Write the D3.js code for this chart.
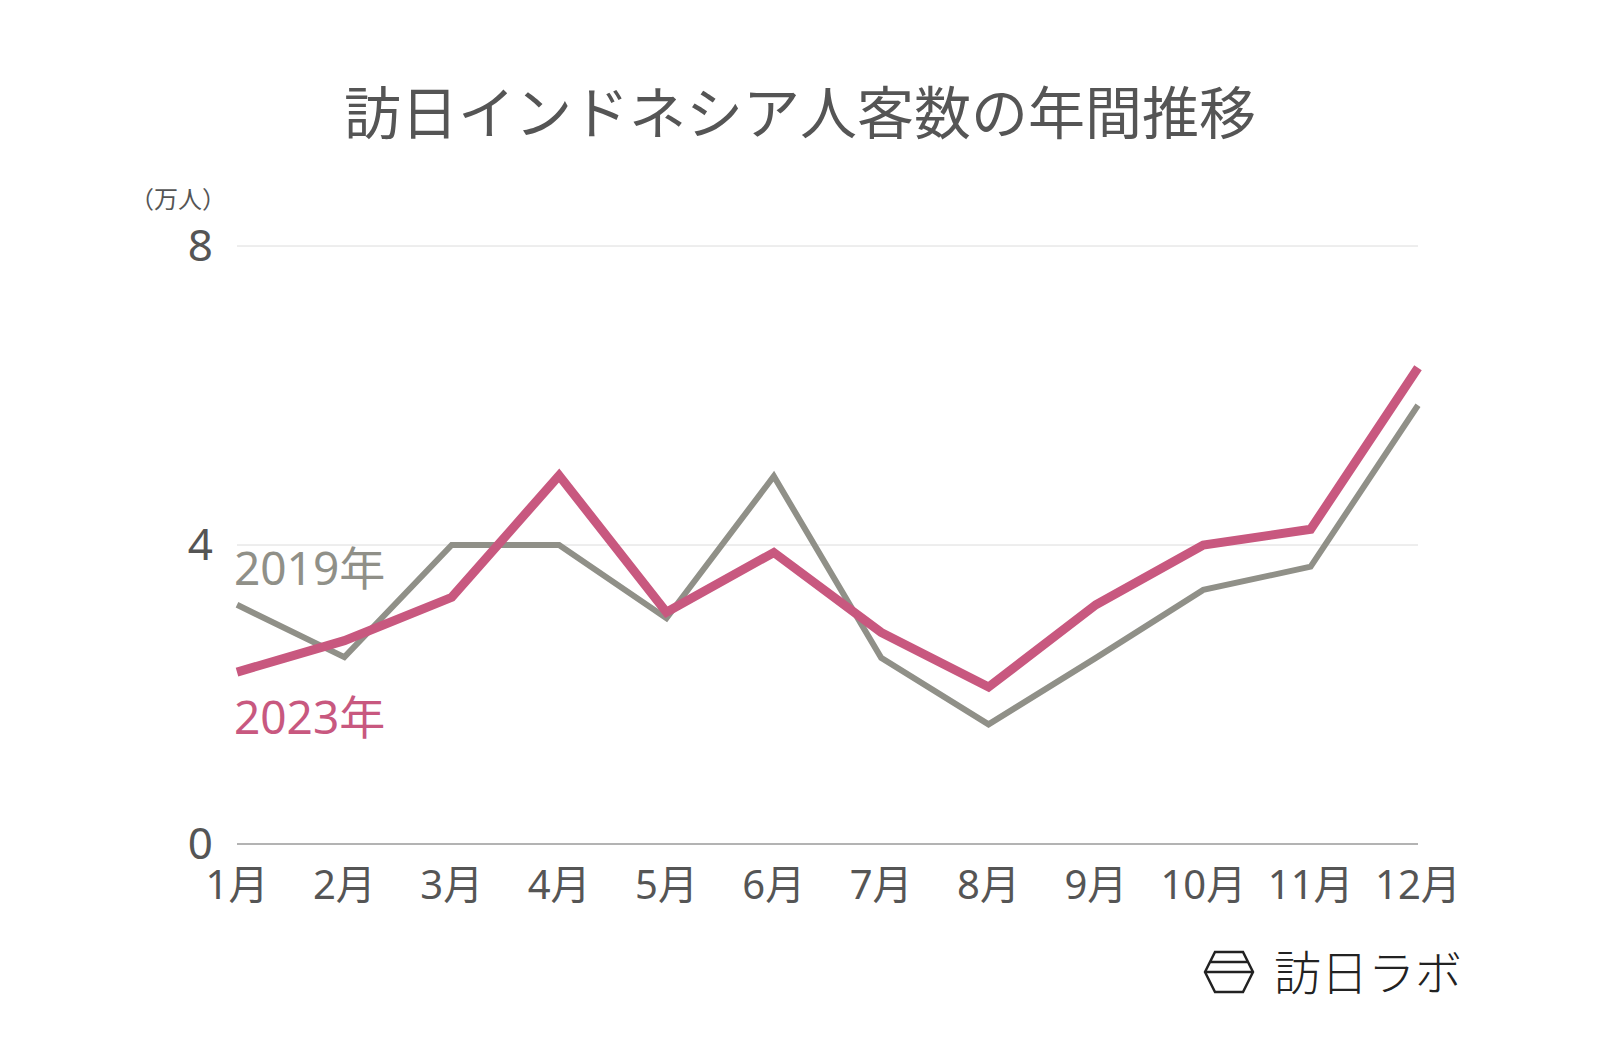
<!DOCTYPE html>
<html>
<head>
<meta charset="utf-8">
<script src="https://cdn.jsdelivr.net/npm/d3@7"></script>
<style>
    body { margin: 0; background: #fff; }
    svg text { font-family: "Noto Sans", "Noto Sans CJK JP", sans-serif; }
</style>
</head>
<body>
<svg id="chart" width="1600" height="1048"></svg>
<script>
const months = ["1月", "2月", "3月", "4月", "5月", "6月", "7月", "8月", "9月", "10月", "11月", "12月"];
const yTicks = [0, 4, 8];
const visitors2019 = [3.2, 2.5, 4.0, 4.0, 3.02, 4.92, 2.49, 1.6, 2.49, 3.4, 3.71, 5.87];
const visitors2023 = [2.3, 2.72, 3.3, 4.93, 3.1, 3.9, 2.83, 2.1, 3.2, 4.0, 4.21, 6.37];

const svg = d3.select("#chart");
const plot = {left: 237, right: 1418, top: 246, bottom: 844};

const x = d3.scalePoint()
    .domain(months)
    .range([plot.left, plot.right]);

const y = d3.scaleLinear()
    .domain([0, 8])
    .range([plot.bottom, plot.top]);

// title
svg.append("text")
    .attr("x", 800)
    .attr("y", 134)
    .attr("text-anchor", "middle")
    .style("font-family", "'Noto Sans CJK JP', sans-serif")
    .style("font-size", "57px")
    .style("fill", "#555")
    .text("訪日インドネシア人客数の年間推移");

// unit label
svg.append("text")
    .attr("x", 178)
    .attr("y", 208)
    .attr("text-anchor", "middle")
    .style("font-family", "'Noto Sans CJK JP', sans-serif")
    .style("font-size", "24px")
    .style("fill", "#555")
    .text("（万人）");

// grid lines
svg.append("g")
    .selectAll("line")
    .data(yTicks)
    .join("line")
    .attr("x1", plot.left)
    .attr("x2", plot.right)
    .attr("y1", d => y(d))
    .attr("y2", d => y(d))
    .style("stroke", d => d === 0 ? "#9a9a9a" : "#dcdcdc")
    .style("stroke-width", d => d === 0 ? 1.5 : 1);

// y axis labels
svg.append("g")
    .selectAll("text")
    .data(yTicks)
    .join("text")
    .attr("x", 213)
    .attr("y", d => y(d) + 15)
    .attr("text-anchor", "end")
    .style("font-size", "44px")
    .style("fill", "#555")
    .text(d => d);

// x axis labels
svg.append("g")
    .selectAll("text")
    .data(months)
    .join("text")
    .attr("x", d => x(d))
    .attr("y", 899)
    .attr("text-anchor", "middle")
    .style("font-size", "40px")
    .style("fill", "#555")
    .text(d => d);

const line = d3.line()
    .x((d, i) => x(months[i]))
    .y(d => y(d));

svg.append("path")
    .datum(visitors2019)
    .attr("d", line)
    .style("fill", "none")
    .style("stroke", "#909088")
    .style("stroke-width", 6);

svg.append("path")
    .datum(visitors2023)
    .attr("d", line)
    .style("fill", "none")
    .style("stroke", "#c8587f")
    .style("stroke-width", 9);

// series labels
svg.append("text")
    .attr("x", 234)
    .attr("y", 585)
    .style("font-size", "46px")
    .style("fill", "#909088")
    .text("2019年");

svg.append("text")
    .attr("x", 234)
    .attr("y", 734)
    .style("font-size", "46px")
    .style("fill", "#c8587f")
    .text("2023年");

// logo
const logo = svg.append("g").attr("transform", "translate(1205, 952)");
logo.append("path")
    .attr("d", "M10,0 L38,0 L48,20 L38,40 L10,40 L0,20 Z M5,10 L43,10 M0,20 L48,20")
    .style("fill", "none")
    .style("stroke", "#222")
    .style("stroke-width", 2.5);

svg.append("text")
    .attr("x", 1274)
    .attr("y", 990)
    .style("font-family", "'Noto Sans CJK JP', sans-serif")
    .style("font-size", "47px")
    .style("font-weight", 300)
    .style("fill", "#222")
    .text("訪日ラボ");
</script>
</body>
</html>
